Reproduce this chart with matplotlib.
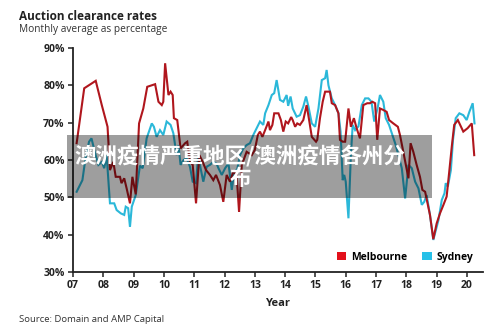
import matplotlib
matplotlib.use("Agg")
import matplotlib.pyplot as plt
from matplotlib.patches import Patch, Rectangle

# values (decimal year, clearance %)
mel_year = [2007.12, 2007.37, 2007.75, 2007.95, 2008.14, 2008.22, 2008.33, 2008.41, 2008.55, 2008.60,
            2008.69, 2008.77, 2008.88, 2008.96, 2009.07, 2009.18, 2009.32, 2009.45, 2009.71, 2009.82,
            2009.93, 2009.98, 2010.04, 2010.15, 2010.22, 2010.29, 2010.33, 2010.44, 2010.55, 2010.70,
            2010.77, 2010.86, 2010.95, 2011.06, 2011.17, 2011.28, 2011.39, 2011.52, 2011.63, 2011.72,
            2011.85, 2011.96, 2012.07, 2012.18, 2012.29, 2012.40, 2012.48, 2012.57, 2012.73, 2012.90,
            2013.00, 2013.10, 2013.17, 2013.25, 2013.34, 2013.45, 2013.50, 2013.58, 2013.64, 2013.78,
            2013.86, 2013.94, 2014.02, 2014.10, 2014.20, 2014.25, 2014.33, 2014.40, 2014.49, 2014.60,
            2014.71, 2014.80, 2014.88, 2015.02, 2015.06, 2015.15, 2015.24, 2015.32, 2015.48, 2015.54,
            2015.65, 2015.76, 2015.81, 2015.90, 2015.98, 2016.09, 2016.17, 2016.27, 2016.36, 2016.47,
            2016.58, 2016.71, 2016.80, 2016.88, 2016.97, 2017.04, 2017.13, 2017.24, 2017.35, 2017.43,
            2017.57, 2017.72, 2017.79, 2017.90, 2018.07, 2018.14, 2018.23, 2018.34, 2018.45, 2018.53,
            2018.62, 2018.70, 2018.78, 2018.89, 2019.00, 2019.11, 2019.22, 2019.33, 2019.41, 2019.50,
            2019.58, 2019.70, 2019.88, 2020.02, 2020.16, 2020.24]
mel_pct = [64.5, 79.2, 81.2, 74.7, 68.9, 57.3, 59.5, 55.5, 55.5, 53.8,
           55.1, 52.4, 48.4, 55.5, 50.8, 69.8, 73.8, 79.6, 80.3, 75.6,
           74.7, 75.6, 85.9, 77.4, 78.3, 77.4, 71.2, 70.7, 63.1, 64.5,
           64.9, 59.5, 58.7, 48.4, 61.3, 59.5, 57.3, 56.0, 54.6, 56.0,
           53.3, 48.8, 56.0, 54.2, 56.9, 56.0, 46.1, 58.7, 62.2, 61.3,
           62.7, 66.7, 67.6, 66.2, 68.0, 70.3, 68.0, 69.4, 72.5, 72.5,
           70.7, 67.6, 70.3, 69.8, 71.5, 70.7, 68.9, 69.8, 69.4, 70.7,
           74.7, 70.3, 66.2, 64.9, 65.4, 71.2, 75.6, 78.3, 78.3, 75.2,
           74.7, 72.5, 65.4, 64.9, 64.9, 73.8, 68.9, 71.2, 68.5, 65.8,
           74.7, 75.2, 75.2, 75.6, 75.2, 65.4, 73.8, 73.4, 72.9, 70.7,
           69.8, 68.9, 66.7, 62.2, 55.1, 64.5, 62.2, 58.7, 55.5, 52.0,
           51.5, 48.4, 45.3, 38.8, 43.0, 45.7, 47.9, 50.2, 56.4, 63.6,
           69.4, 70.7, 67.6, 68.5, 69.8, 61.3]

syd_year = [2007.12, 2007.31, 2007.42, 2007.53, 2007.61, 2007.73, 2007.84, 2007.95, 2008.03, 2008.11,
            2008.22, 2008.36, 2008.44, 2008.58, 2008.69, 2008.74, 2008.82, 2008.88, 2008.94, 2009.07,
            2009.21, 2009.30, 2009.43, 2009.60, 2009.67, 2009.76, 2009.87, 2009.98, 2010.09, 2010.22,
            2010.31, 2010.42, 2010.48, 2010.55, 2010.65, 2010.75, 2010.86, 2010.95, 2011.06, 2011.13,
            2011.21, 2011.30, 2011.41, 2011.52, 2011.63, 2011.74, 2011.80, 2011.91, 2012.02, 2012.13,
            2012.24, 2012.32, 2012.42, 2012.51, 2012.62, 2012.73, 2012.84, 2012.95, 2013.06, 2013.17,
            2013.28, 2013.34, 2013.45, 2013.56, 2013.64, 2013.72, 2013.83, 2013.94, 2014.05, 2014.10,
            2014.18, 2014.25, 2014.38, 2014.49, 2014.60, 2014.69, 2014.77, 2014.88, 2014.99, 2015.10,
            2015.21, 2015.32, 2015.37, 2015.43, 2015.54, 2015.65, 2015.76, 2015.83, 2015.90, 2015.95,
            2016.00, 2016.09, 2016.17, 2016.23, 2016.31, 2016.42, 2016.53, 2016.64, 2016.75, 2016.85,
            2016.94, 2017.05, 2017.13, 2017.24, 2017.32, 2017.43, 2017.52, 2017.65, 2017.74, 2017.85,
            2017.96, 2018.07, 2018.18, 2018.29, 2018.40, 2018.51, 2018.59, 2018.67, 2018.78, 2018.89,
            2019.06, 2019.17, 2019.26, 2019.30, 2019.37, 2019.47, 2019.54, 2019.63, 2019.75, 2019.88,
            2019.99, 2020.08, 2020.19, 2020.25]
syd_pct = [51.5, 54.6, 60.9, 64.9, 65.8, 61.8, 58.7, 59.5, 57.8, 61.3,
           48.4, 48.4, 46.6, 45.7, 45.3, 47.5, 47.1, 42.1, 47.5, 50.6,
           58.5, 57.8, 65.8, 69.8, 68.9, 66.2, 68.0, 66.7, 70.3, 69.4,
           67.2, 61.3, 64.0, 58.7, 60.0, 60.5, 58.2, 54.2, 53.8, 61.3,
           57.8, 54.2, 58.2, 58.7, 59.5, 59.0, 57.8, 56.0, 57.8, 59.1,
           52.0, 56.9, 57.5, 61.3, 63.1, 64.0, 64.5, 66.7, 68.5, 70.3,
           69.4, 72.5, 74.7, 77.4, 77.9, 81.4, 76.1, 75.6, 77.4, 74.5,
           77.0, 73.8, 71.6, 72.0, 74.3, 77.0, 74.3, 69.8, 68.9, 73.8,
           81.4, 81.9, 84.1, 80.0, 76.5, 74.7, 72.5, 67.6, 54.6, 56.0,
           54.2, 44.4, 61.3, 69.4, 68.0, 69.0, 74.7, 76.5, 76.5, 75.6,
           70.3, 73.8, 77.4, 75.6, 71.2, 69.4, 67.2, 64.0, 61.3, 57.8,
           49.7, 58.7, 57.8, 54.2, 52.4, 48.0, 48.8, 50.6, 45.3, 38.6,
           43.9, 49.3, 51.1, 53.8, 52.9, 57.3, 65.4, 71.2, 72.5, 72.0,
           70.7, 72.9, 75.2, 69.8]

year_ticks = list(range(2007, 2021))
year_labels = ["%02d" % (y % 100) for y in year_ticks]
pct_ticks = [30, 40, 50, 60, 70, 80, 90]

RED = "#b0161d"
CYAN = "#2bb8d9"
FONT = "Open Sans"

fig = plt.figure(figsize=(5, 3.33), dpi=100)
ax = fig.add_axes([0.146, 0.183, 0.82, 0.673])

ax.plot(syd_year, syd_pct, color=CYAN, lw=1.5, solid_joinstyle="miter")
ax.plot(mel_year, mel_pct, color=RED, lw=1.5, solid_joinstyle="miter")

ax.set_xlim(2007, 2020.53)
ax.set_ylim(30, 90)
ax.set_xticks(year_ticks)
ax.set_xticklabels(year_labels, fontfamily=FONT, fontweight="bold", fontsize=7.5, color="#222222")
ax.set_yticks(pct_ticks)
ax.set_yticklabels([f"{p}%" for p in pct_ticks], fontfamily=FONT, fontweight="bold",
                   fontsize=7.5, color="#222222")
ax.tick_params(length=3.5, width=1.1, pad=2.5, colors="#222222")
for s in ("top", "right"):
    ax.spines[s].set_visible(False)
for s in ("left", "bottom"):
    ax.spines[s].set_linewidth(1.3)
    ax.spines[s].set_color("#222222")
ax.set_xlabel("Year", fontfamily=FONT, fontweight="bold", fontsize=8, color="#222222", labelpad=5)

handles = [Patch(facecolor="#e3101b", label="Melbourne"), Patch(facecolor="#27c0e8", label="Sydney")]
ax.legend(handles=handles, loc="lower right", bbox_to_anchor=(1.0, 0.0), ncol=2, frameon=False,
          handlelength=0.9, handleheight=0.9, handletextpad=0.5, columnspacing=1.4,
          prop={"family": FONT, "weight": "bold", "size": 7.5})

fig.text(0.038, 0.94, "Auction clearance rates", fontfamily=FONT, fontweight="bold",
         fontsize=8.5, color="#222222", va="baseline")
fig.text(0.038, 0.903, "Monthly average as percentage", fontfamily=FONT, fontsize=7.3,
         color="#333333", va="baseline")
fig.text(0.038, 0.04, "Source: Domain and AMP Capital", fontfamily=FONT, fontsize=6.8,
         color="#333333", va="center")

# watermark overlay
fig.patches.append(Rectangle((67 / 500, 1 - 198 / 333), 365 / 500, 63 / 333,
                             transform=fig.transFigure, facecolor="black", alpha=0.38,
                             edgecolor="none", zorder=10))
fig.text(240 / 500, 1 - 167 / 333, "澳洲疫情严重地区/澳洲疫情各州分\n布", ha="center", va="center",
         fontfamily=["Noto Sans CJK SC", "DejaVu Sans"], fontweight="bold", fontsize=15.5,
         color="white", linespacing=1.05, zorder=11)

fig.savefig("out.png", dpi=100)
